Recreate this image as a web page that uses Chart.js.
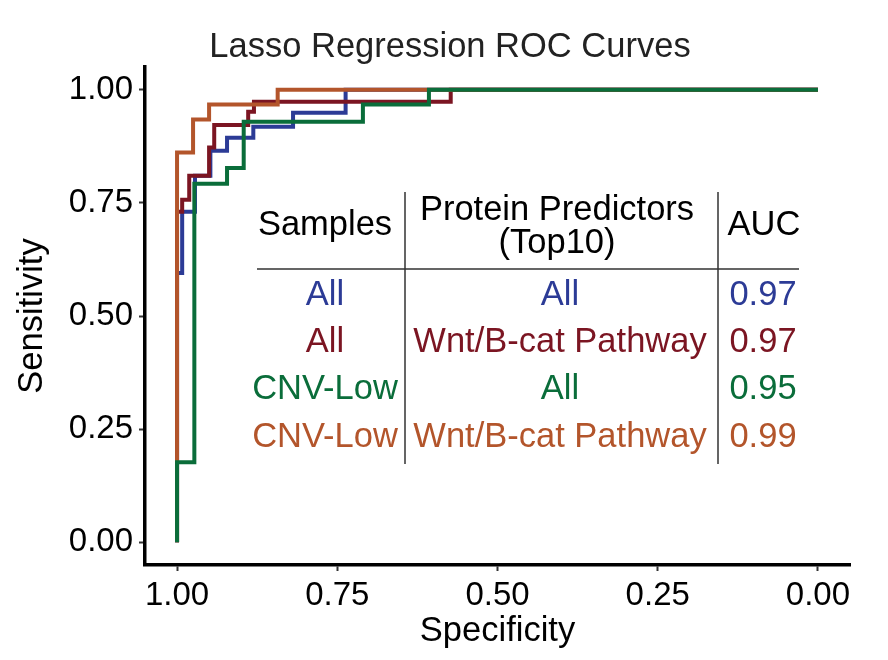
<!DOCTYPE html>
<html>
<head>
<meta charset="utf-8">
<title>Lasso Regression ROC Curves</title>
<script src="https://cdn.jsdelivr.net/npm/chart.js@4/dist/chart.umd.min.js"></script>
<style>
  body { margin: 0; background: #fff; }
  #roc { display: block; }
</style>
</head>
<body>
<canvas id="roc" width="888" height="660"></canvas>
<script>
// ROC step points (specificity, sensitivity)
const allAllSpec = [1, 1, 0.992, 0.972, 0.948, 0.922, 0.881, 0.819, 0.737, 0];
const allAllSens = [0, 0.595, 0.730, 0.810, 0.865, 0.894, 0.918, 0.949, 1.0, 1.0];

const allWntSpec = [1, 1, 0.992, 0.981, 0.950, 0.942, 0.889, 0.880, 0.573, 0];
const allWntSens = [0, 0.730, 0.757, 0.810, 0.872, 0.922, 0.951, 0.973, 1.0, 1.0];

const lowAllSpec = [1, 1, 0.973, 0.922, 0.896, 0.710, 0.607, 0];
const lowAllSens = [0, 0.177, 0.792, 0.827, 0.929, 0.967, 1.0, 1.0];

const lowWntSpec = [1, 1, 0.975, 0.950, 0.843, 0];
const lowWntSens = [0, 0.861, 0.934, 0.967, 1.0, 1.0];

const tickValues = [0, 0.25, 0.5, 0.75, 1];

// table in the plot
const tableSamples = ['All', 'All', 'CNV-Low', 'CNV-Low'];
const tablePredictors = ['All', 'Wnt/B-cat Pathway', 'All', 'Wnt/B-cat Pathway'];
const tableAUC = ['0.97', '0.97', '0.95', '0.99'];

const colores = ['#2C3B96', '#7B1522', '#0A6D3A', '#B3552B'];
const FUENTE = '"Liberation Sans", Arial, sans-serif';

function puntos(spec, sens) {
  return spec.map((s, i) => ({ x: s, y: sens[i] }));
}

const tablaPlugin = {
  id: 'tabla',
  afterDraw(chart) {
    const ctx = chart.ctx;
    ctx.save();

    // titulo
    ctx.fillStyle = '#222';
    ctx.font = '34.5px ' + FUENTE;
    ctx.textAlign = 'center';
    ctx.textBaseline = 'middle';
    ctx.fillText('Lasso Regression ROC Curves', 450, 47);

    // lineas de la tabla
    ctx.strokeStyle = '#333';
    ctx.lineWidth = 1.5;
    ctx.beginPath();
    ctx.moveTo(405, 192); ctx.lineTo(405, 464);
    ctx.moveTo(718, 192); ctx.lineTo(718, 464);
    ctx.moveTo(257, 269); ctx.lineTo(799, 269);
    ctx.stroke();

    // encabezados
    ctx.font = '34.5px ' + FUENTE;
    ctx.fillStyle = '#000';
    ctx.fillText('Samples', 325, 225);
    ctx.fillText('Protein Predictors', 557, 210);
    ctx.fillText('(Top10)', 557, 243);
    ctx.fillText('AUC', 764, 225);

    // filas
    const filasY = [295, 342, 389, 437];
    tableSamples.forEach((s, i) => {
      ctx.fillStyle = colores[i];
      ctx.fillText(s, 325, filasY[i]);
      ctx.fillText(tablePredictors[i], 560, filasY[i]);
      ctx.fillText(tableAUC[i], 763, filasY[i]);
    });
    ctx.restore();
  }
};

const ctx = document.getElementById('roc').getContext('2d');
new Chart(ctx, {
  type: 'line',
  data: {
    datasets: [
      { label: 'All / All', data: puntos(allAllSpec, allAllSens), borderColor: colores[0], order: 3 },
      { label: 'All / Wnt', data: puntos(allWntSpec, allWntSens), borderColor: colores[1], order: 2 },
      { label: 'CNV-Low / All', data: puntos(lowAllSpec, lowAllSens), borderColor: colores[2], order: 0 },
      { label: 'CNV-Low / Wnt', data: puntos(lowWntSpec, lowWntSens), borderColor: colores[3], order: 1 }
    ].map(d => Object.assign(d, {
      stepped: 'before',
      borderWidth: 4,
      pointRadius: 0,
      fill: false,
      tension: 0
    }))
  },
  options: {
    responsive: false,
    animation: false,
    devicePixelRatio: 1,
    layout: { padding: { top: 67, right: 38, left: 0, bottom: 0 } },
    plugins: {
      legend: { display: false },
      tooltip: { enabled: false },
      title: { display: false }
    },
    scales: {
      x: {
        type: 'linear',
        reverse: true,
        min: -0.05,
        max: 1.05,
        afterFit(scale) { scale.height = 95; },
        afterBuildTicks(scale) { scale.ticks = tickValues.map(v => ({ value: v })); },
        grid: { drawOnChartArea: false, drawTicks: true, tickLength: 6, tickColor: '#333', tickWidth: 2 },
        border: { display: true, color: '#000', width: 3.5 },
        ticks: {
          color: '#000',
          padding: 5,
          maxRotation: 0,
          font: { family: FUENTE, size: 33 },
          callback: v => Number(v).toFixed(2)
        },
        title: {
          display: true,
          text: 'Specificity',
          color: '#000',
          font: { family: FUENTE, size: 34.5 },
          padding: { top: 0, bottom: 8 }
        }
      },
      y: {
        type: 'linear',
        min: -0.05,
        max: 1.05,
        afterFit(scale) { scale.width = 145; },
        afterBuildTicks(scale) { scale.ticks = tickValues.map(v => ({ value: v })); },
        grid: { drawOnChartArea: false, drawTicks: true, tickLength: 6, tickColor: '#333', tickWidth: 2 },
        border: { display: true, color: '#000', width: 3.5 },
        ticks: {
          color: '#000',
          padding: 6,
          font: { family: FUENTE, size: 33 },
          callback: v => Number(v).toFixed(2)
        },
        title: {
          display: true,
          text: 'Sensitivity',
          color: '#000',
          font: { family: FUENTE, size: 34.5 },
          padding: { top: 12, bottom: 0 }
        }
      }
    }
  },
  plugins: [tablaPlugin]
});
</script>
</body>
</html>
